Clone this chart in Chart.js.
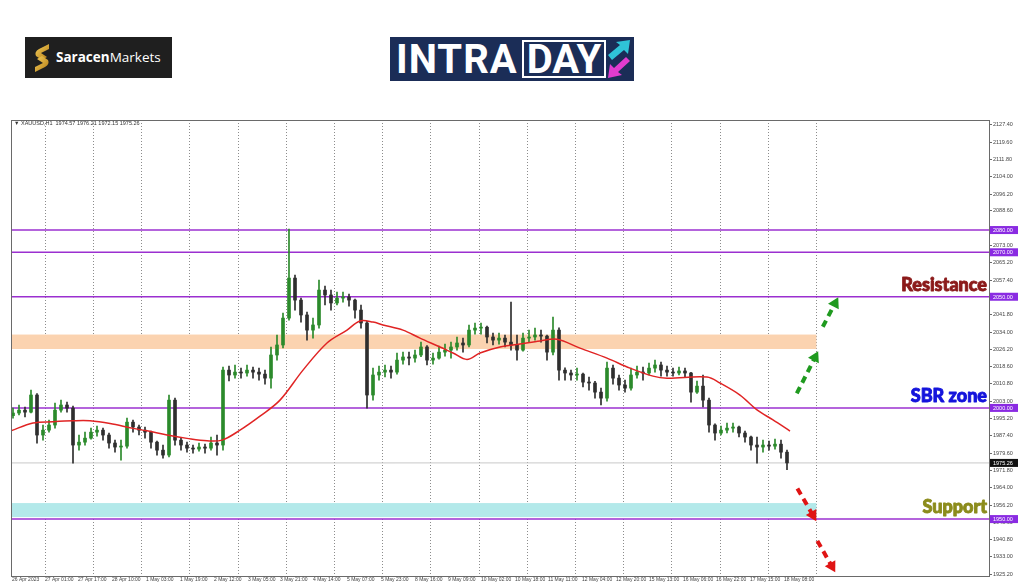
<!DOCTYPE html>
<html>
<head>
<meta charset="utf-8">
<script src="https://cdn.jsdelivr.net/npm/chart.js@4.4.0/dist/chart.umd.min.js"></script>
<style>
  html, body { margin:0; padding:0; background:#fff; }
  #wrap { position:relative; width:1024px; height:587px; overflow:hidden; background:#fff; }
  #grafico { position:absolute; left:0; top:0; }
  .saracen { position:absolute; left:25px; top:37px; width:147px; height:41px; background:#1f1f1f; }
  .saracen svg { position:absolute; left:9px; top:6px; }
  .saracen span { position:absolute; left:31px; top:0; line-height:41px; color:#fff; font-family:"Open Sans", sans-serif; font-size:13.5px; }
  .intra { position:absolute; left:390px; top:37px; width:244px; height:44px; background:#1b2d57; }
  .intra .t1 { position:absolute; left:6px; top:1px; color:#fff; font-family:Roboto, sans-serif; font-weight:700; font-size:40px; line-height:43px; letter-spacing:1px; }
  .intra .t2 { position:absolute; left:132px; top:3px; width:80px; height:34px; border:2px solid #fff; color:#fff; font-family:Roboto, sans-serif; font-weight:700; font-size:40px; line-height:35px; text-align:center; letter-spacing:0px; }
  .intra svg { position:absolute; left:216px; top:2px; }
  .simbolo { position:absolute; left:14px; top:120px; font-family:"Liberation Sans", sans-serif; font-size:5.5px; color:#333; white-space:pre; }
</style>
</head>
<body>
<div id="wrap">
  <div class="saracen">
    <svg width="16" height="30" viewBox="0 0 16 30">
      <defs><linearGradient id="oro" x1="0" y1="0" x2="1" y2="1"><stop offset="0" stop-color="#f6cf5c"/><stop offset="1" stop-color="#b27b14"/></linearGradient></defs>
      <path d="M15 1 L5 6 Q0 9 2 13 L8 17 L13 14 L7 10 L15 6 Z" fill="url(#oro)"/>
      <path d="M1 29 L11 24 Q16 21 14 17 L8 13 L3 16 L9 20 L1 24 Z" fill="url(#oro)"/>
    </svg>
    <span><b>Saracen</b>Markets</span>
  </div>
  <div class="intra">
    <span class="t1">INTRA</span><span class="t2">DAY</span>
    <svg width="26" height="40" viewBox="0 0 26 40">
      <polygon points="2,16 14,6 10,3 24,1 22,15 18,11 6,21" fill="#2fc4d8"/>
      <polygon points="24,22 12,33 16,36 2,39 4,25 8,29 20,18" fill="#e23ccf"/>
    </svg>
  </div>
  <canvas id="grafico" width="1024" height="587"></canvas>
  <div class="simbolo">▼ XAUUSD,H1  1974.57 1976.21 1972.15 1975.26</div>
</div>
<script>
/// datos XAUUSD H1 (velas agrupadas de 3 horas) ///

const paso = 3; // horas por vela

const opens = [1996.5,1997.7,1999.0,1998.1,2005.8,1987.8,1990.0,1992.3,1999.0,2001.3,
  1999.9,1983.3,1984.6,1986.4,1989.1,1990.0,1987.8,1984.2,1982.4,1982.8,
  1993.6,1991.4,1990.0,1989.1,1984.6,1981.0,1978.8,2003.5,1985.5,1983.3,
  1981.9,1981.5,1982.4,1981.9,1984.2,1983.3,2017.0,2014.8,2016.1,2015.7,
  2017.0,2016.1,2015.2,2013.4,2023.8,2028.3,2040.4,2058.4,2048.5,2041.8,
  2035.0,2037.3,2053.0,2050.8,2047.2,2049.4,2049.9,2048.5,2044.0,2038.2,
  2005.8,2014.8,2016.1,2017.0,2016.1,2021.5,2022.9,2022.4,2023.8,2027.4,
  2021.5,2022.4,2025.1,2026.0,2027.4,2029.2,2028.3,2035.0,2035.9,2036.3,
  2031.9,2030.5,2031.4,2029.6,2028.3,2026.0,2031.4,2031.9,2032.8,2032.3,
  2025.1,2035.0,2017.0,2015.7,2014.8,2015.2,2011.6,2011.2,2007.1,2004.4,
  2017.9,2013.4,2010.3,2008.9,2014.8,2016.1,2015.7,2017.9,2019.3,2017.0,
  2016.1,2015.7,2016.6,2015.7,2007.1,2009.8,2003.5,1992.3,1988.7,1990.0,
  1990.9,1991.4,1988.7,1986.9,1983.3,1982.4,1983.3,1982.8,1983.7,1980.1];

const highs = [1999.9,2001.3,2000.4,2008.0,2006.5,1992.3,1994.5,2002.2,2003.5,2002.6,
  2000.8,1987.8,1989.1,1990.9,1991.8,1990.9,1988.7,1985.5,1985.5,1995.4,
  1994.5,1992.3,1991.4,1989.6,1985.1,1983.3,2005.8,2004.4,1986.4,1984.6,
  1983.3,1984.2,1983.7,1986.9,1987.8,2018.4,2018.8,2019.3,2017.9,2019.3,
  2018.4,2017.9,2017.0,2027.4,2032.8,2042.7,2080.4,2059.7,2049.4,2043.1,
  2040.4,2057.5,2054.8,2053.0,2052.1,2052.1,2051.2,2049.0,2046.3,2039.0,
  2017.9,2018.8,2019.3,2018.8,2024.7,2025.1,2025.1,2026.0,2029.6,2028.0,
  2024.7,2027.8,2028.7,2029.6,2031.9,2031.4,2037.3,2038.2,2038.2,2036.8,
  2033.7,2033.7,2032.8,2047.6,2032.8,2033.7,2035.0,2035.9,2035.0,2032.8,
  2040.9,2036.0,2018.0,2017.0,2017.9,2015.7,2013.9,2012.0,2008.9,2020.6,
  2019.3,2014.8,2012.5,2017.9,2018.8,2018.4,2020.2,2021.5,2020.6,2018.8,
  2017.9,2018.4,2017.9,2016.0,2012.1,2014.8,2004.4,1992.8,1991.8,1993.2,
  1993.2,1991.8,1989.6,1987.3,1986.9,1985.5,1985.1,1986.0,1985.5,1981.0];

const lows = [1995.4,1996.8,1995.9,1997.7,1984.2,1985.5,1989.1,1990.9,1998.1,1998.1,
  1975.2,1981.0,1983.3,1985.9,1987.3,1985.5,1981.9,1980.1,1976.5,1981.9,
  1989.1,1987.8,1986.4,1981.9,1978.8,1977.4,1978.0,1983.3,1981.0,1980.1,
  1979.7,1980.6,1979.7,1981.0,1978.8,1981.0,2012.1,2013.4,2013.4,2014.3,
  2013.4,2012.5,2010.7,2008.9,2021.5,2027.0,2039.5,2044.0,2038.6,2030.5,
  2031.4,2035.9,2046.3,2044.0,2046.3,2047.6,2045.8,2040.4,2035.9,1999.9,
  2003.5,2012.5,2013.9,2013.4,2015.2,2019.7,2019.3,2020.6,2023.0,2019.3,
  2019.7,2021.9,2023.3,2022.4,2026.0,2025.1,2027.4,2033.2,2033.2,2029.2,
  2028.3,2028.7,2027.4,2026.0,2021.5,2025.5,2029.6,2030.5,2029.6,2021.5,
  2023.8,2012.5,2012.5,2012.5,2012.5,2009.4,2008.0,2004.4,2001.3,2003.0,
  2010.7,2008.0,2007.1,2008.0,2013.4,2012.5,2014.8,2016.1,2014.3,2014.3,
  2014.3,2014.8,2013.9,2002.6,2006.5,2000.4,1989.1,1985.5,1987.8,1988.7,
  1989.1,1986.9,1984.6,1981.0,1975.2,1980.1,1981.0,1981.5,1977.4,1972.2];

const closes = [1997.7,1999.0,1998.1,2005.8,1987.8,1990.0,1992.3,1999.0,2001.3,1999.9,
  1983.3,1984.6,1986.4,1989.1,1990.0,1987.8,1984.2,1982.4,1982.8,1993.6,
  1991.4,1990.0,1989.1,1984.6,1981.0,1978.8,2003.5,1985.5,1983.3,1981.9,
  1981.5,1982.4,1981.9,1984.2,1983.3,2017.0,2014.8,2016.1,2015.7,2017.0,
  2016.1,2015.2,2013.4,2023.8,2028.3,2040.4,2058.4,2048.5,2041.8,2035.0,
  2037.3,2053.0,2050.8,2047.2,2049.4,2049.9,2048.5,2044.0,2038.2,2005.8,
  2014.8,2016.1,2017.0,2016.1,2021.5,2022.9,2022.4,2023.8,2027.4,2021.5,
  2022.4,2025.1,2026.0,2027.4,2029.2,2028.3,2035.0,2035.9,2036.3,2031.9,
  2030.5,2031.4,2029.6,2028.3,2026.0,2031.4,2031.9,2032.8,2032.3,2025.1,
  2035.0,2017.0,2015.7,2014.8,2015.2,2011.6,2011.2,2007.1,2004.4,2017.9,
  2013.4,2010.3,2008.9,2014.8,2016.1,2015.7,2017.9,2019.3,2017.0,2016.1,
  2015.7,2016.6,2015.7,2007.1,2009.8,2003.5,1992.3,1988.7,1990.0,1990.9,
  1991.4,1988.7,1986.9,1983.3,1982.4,1983.3,1982.8,1983.7,1980.1,1975.26];

// media movil (hora de barra, valor)
const maHoras = [0,11,21,31,39.5,49.5,61,68,78,88,98,105.5,114.5,124.5,134.5,146,158,168,174.5,181,186,196,204.5,214.5,221,228,234.5,244.5,254.5,264.5,273,284.5,298,309.5,321,328,348,354.5,364.5,373,381,389.5];
const maValores = [1989.7,1993.2,1993.8,1994.2,1994.2,1993.0,1990.8,1989.7,1987.8,1986.3,1985.2,1985.5,1990.0,1996.3,2003.5,2017.0,2029.2,2035.0,2039.1,2038.6,2037.3,2035.0,2031.4,2027.4,2024.7,2021.8,2024.7,2027.4,2028.7,2030.1,2030.9,2026.9,2022.4,2017.9,2014.3,2013.4,2013.9,2011.2,2005.8,1999.1,1994.6,1989.6];

// eje x: etiquetas y su hora de barra
const xEtiquetas = ["26 Apr 2023","27 Apr 01:00","27 Apr 17:00","28 Apr 10:00","1 May 03:00","1 May 19:00","2 May 12:00","3 May 05:00","3 May 21:00","4 May 14:00","5 May 07:00","5 May 23:00","8 May 16:00","9 May 09:00","10 May 02:00","10 May 18:00","11 May 11:00","12 May 04:00","12 May 20:00","15 May 13:00","16 May 06:00","16 May 22:00","17 May 15:00","18 May 08:00"];
const xEtiquetaHoras = [0.5,17,33.5,50.5,67.5,84.5,101.5,118.5,134.5,151,168,185,202,218.5,235,252,268.5,285.5,302.5,319,336,352.5,369.5,386.5];
const xGrilla = [17,41,65.3,89.4,113.5,137.6,161.7,185.8,209.9,234,258,282.2,306.3,330.4,354.5,378.6,402.7];

// eje y
const yEtiquetas = ["2127.40","2119.60","2111.80","2104.00","2096.20","2088.60","2080.80","2073.00","2065.20","2057.40","2049.60","2041.80","2034.00","2026.20","2018.60","2010.80","2003.00","1995.20","1987.40","1979.60","1971.80","1964.00","1956.20","1948.60","1940.80","1933.00","1925.20"];

// niveles y zonas
const niveles = [2080, 2070, 2050, 2000, 1950];
const precioActual = 1975.26;
const zonaResistencia = [2026.5, 2033.0];
const zonaSoporte = [1950.9, 1957.2];
const finZonas = 402.7;
const textos = [
  { texto: "Resistance", nivel: 2050, color: "#8b1a1a" },
  { texto: "SBR zone", nivel: 2000, color: "#1414dc" },
  { texto: "Support", nivel: 1950, color: "#8c8c1c" }
];
const flechasVerdes = [
  [{x:392.9, y:2006.5}, {x:402, y:2022.7}],
  [{x:405.9, y:2036.5}, {x:412, y:2047.0}]
];
const flechasRojas = [
  [{x:393.2, y:1963.8}, {x:400.9, y:1951.8}],
  [{x:403.2, y:1940.2}, {x:410.4, y:1928.8}]
];

const xMax = 489;
const verde = "#2b8a2b";
const oscuro = "#2e2e2e";
const morado = "#9b30d0";

function colorVela(ctx) {
  const i = ctx.dataIndex;
  return closes[i] >= opens[i] ? verde : oscuro;
}

function giro(p0, p1) {
  return function(ctx) {
    const xs = ctx.chart.scales.x, ys = ctx.chart.scales.y;
    if (!xs || !ys) return 0;
    const dx = xs.getPixelForValue(p1.x) - xs.getPixelForValue(p0.x);
    const dy = ys.getPixelForValue(p1.y) - ys.getPixelForValue(p0.y);
    return Math.atan2(dx, -dy) * 180 / Math.PI;
  };
}

function flecha(puntos, color) {
  return {
    type: "line",
    data: puntos,
    borderColor: color,
    backgroundColor: color,
    borderWidth: 4,
    borderDash: [7, 5],
    pointStyle: "triangle",
    pointRadius: [0, 7],
    pointBorderWidth: 0,
    pointRotation: giro(puntos[0], puntos[1]),
    order: 0
  };
}

const cuerpos = closes.map((c, i) => ({ x: 1 + i * paso, y: [opens[i], c] }));
const mechas = closes.map((c, i) => ({ x: 1 + i * paso, y: [lows[i], highs[i]] }));
const media = maHoras.map((h, i) => ({ x: h, y: maValores[i] }));

const datasets = [];
niveles.forEach(n => {
  datasets.push({ type: "line", data: [{x:0, y:n}, {x:xMax, y:n}], borderColor: morado, borderWidth: 1.5, pointRadius: 0, order: 5 });
});
datasets.push({ type: "line", data: [{x:0, y:precioActual}, {x:xMax, y:precioActual}], borderColor: "#c8c8c8", borderWidth: 1, pointRadius: 0, order: 6 });
datasets.push({ type: "bar", data: mechas, backgroundColor: colorVela, barThickness: 1, grouped: false, order: 3 });
datasets.push({ type: "bar", data: cuerpos, backgroundColor: colorVela, barThickness: 3, minBarLength: 1, grouped: false, order: 2 });
datasets.push({ type: "line", data: media, borderColor: "#e02424", borderWidth: 1.5, pointRadius: 0, tension: 0.35, order: 1 });
flechasVerdes.forEach(f => datasets.push(flecha(f, "#1f9a1f")));
flechasRojas.forEach(f => datasets.push(flecha(f, "#e01414")));

const fuenteEje = { family: "Liberation Sans", size: 5.5 };

const dibujos = {
  id: "dibujos",
  beforeDatasetsDraw(chart) {
    const { ctx, chartArea, scales: { x, y } } = chart;
    ctx.save();
    const zona = (r, color) => {
      const x0 = chartArea.left, x1 = x.getPixelForValue(finZonas);
      const y0 = y.getPixelForValue(r[1]), y1 = y.getPixelForValue(r[0]);
      ctx.fillStyle = color;
      ctx.fillRect(x0, y0, x1 - x0, y1 - y0);
    };
    zona(zonaResistencia, "#fbd3b0");
    zona(zonaSoporte, "#b3e9ea");
    ctx.restore();
  },
  afterDraw(chart) {
    const { ctx, chartArea, scales: { y } } = chart;
    ctx.save();
    ctx.strokeStyle = "#6a6a6a";
    ctx.lineWidth = 1;
    ctx.strokeRect(chartArea.left + 0.5, chartArea.top + 0.5, chartArea.right - chartArea.left, chartArea.bottom - chartArea.top);

    const caja = (v, fondo) => {
      const py = y.getPixelForValue(v);
      ctx.fillStyle = fondo;
      ctx.fillRect(chartArea.right + 1, py - 4, 28, 8);
      ctx.fillStyle = "#fff";
      ctx.font = "5.5px 'Liberation Sans'";
      ctx.textAlign = "left";
      ctx.textBaseline = "middle";
      ctx.fillText(v.toFixed(2), chartArea.right + 4, py + 0.5);
    };
    niveles.forEach(n => caja(n, "#8a2be2"));
    caja(precioActual, "#111");

    ctx.textAlign = "right";
    ctx.textBaseline = "bottom";
    ctx.font = "900 18px Lato";
    ctx.lineJoin = "round";
    textos.forEach(t => {
      const py = y.getPixelForValue(t.nivel) - 3;
      ctx.fillStyle = t.color;
      ctx.strokeStyle = t.color;
      ctx.lineWidth = 0.9;
      ctx.fillText(t.texto, chartArea.right - 2, py);
      ctx.strokeText(t.texto, chartArea.right - 2, py);
    });
    ctx.restore();
  }
};

new Chart(document.getElementById("grafico"), {
  type: "bar",
  data: { datasets: datasets },
  options: {
    responsive: false,
    animation: false,
    layout: { padding: { left: 11, top: 120, right: 0, bottom: 0 } },
    plugins: { legend: { display: false }, tooltip: { enabled: false } },
    scales: {
      x: {
        type: "linear", min: 0, max: xMax, offset: false,
        afterBuildTicks: s => { s.ticks = xEtiquetaHoras.map(v => ({ value: v })); },
        afterFit: s => { s.height = 11; },
        grid: { display: false, drawTicks: false, offset: false },
        border: { display: false },
        ticks: { autoSkip: false, maxRotation: 0, align: "start", padding: 1, color: "#444",
          font: { family: "Liberation Sans", size: 5 },
          callback: (v, i) => xEtiquetas[i] }
      },
      xg: {
        type: "linear", position: "bottom", min: 0, max: xMax, offset: false,
        afterBuildTicks: s => { s.ticks = xGrilla.map(v => ({ value: v })); },
        afterFit: s => { s.height = 0; },
        grid: { color: "#8c8c8c", lineWidth: 1, drawTicks: false, offset: false },
        border: { display: false, dash: [1, 2] },
        ticks: { display: false }
      },
      y: {
        position: "right", min: 1924.4, max: 2129.5,
        afterBuildTicks: s => { s.ticks = yEtiquetas.map(t => ({ value: parseFloat(t) })); },
        afterFit: s => { s.width = 35; },
        grid: { drawOnChartArea: false, tickLength: 3, color: "#6a6a6a" },
        border: { display: false },
        ticks: { padding: 1, color: "#444", font: fuenteEje, callback: v => v.toFixed(2) }
      }
    }
  },
  plugins: [dibujos]
});
</script>
</body>
</html>
